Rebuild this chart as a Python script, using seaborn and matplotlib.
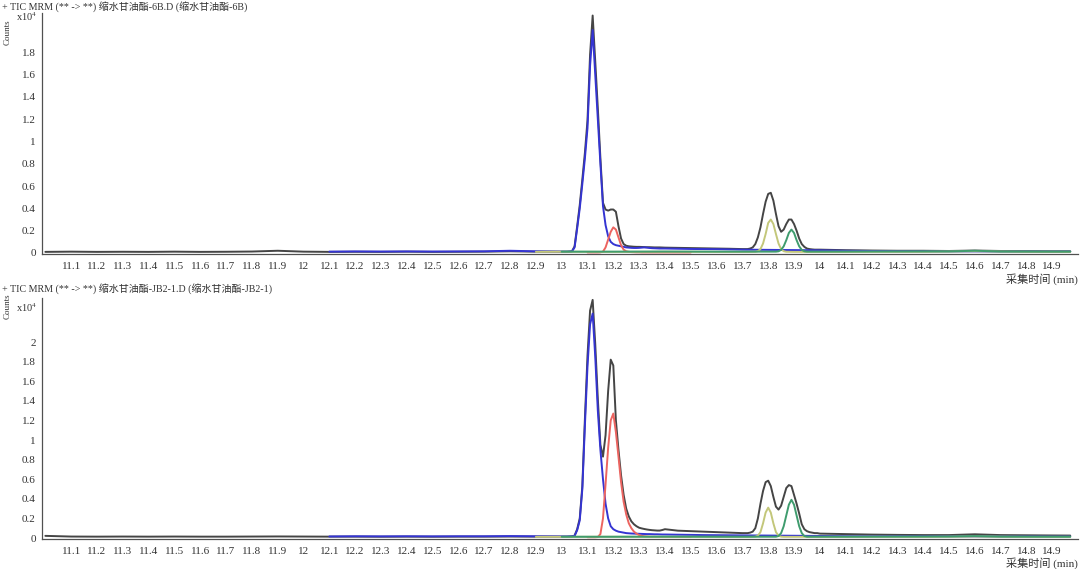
import numpy as np
import pandas as pd
import matplotlib
matplotlib.use("Agg")
import matplotlib.pyplot as plt
import seaborn as sns

# ---- retention time grids (min) ----
rt_survey = [11.0, 11.1, 11.2, 11.3, 11.4, 11.5, 11.6, 11.7, 11.8, 11.9,
             12.0, 12.1, 12.2, 12.3, 12.4, 12.5, 12.6, 12.7, 12.8, 12.9]
rt_peak1 = [13.00, 13.01, 13.02, 13.03, 13.04, 13.05, 13.06, 13.07, 13.08, 13.09,
            13.10, 13.11, 13.12, 13.13, 13.14, 13.15, 13.16, 13.17, 13.18, 13.19,
            13.20, 13.21, 13.22, 13.23, 13.24, 13.25, 13.26, 13.27, 13.28, 13.29,
            13.30, 13.31, 13.32, 13.33, 13.34, 13.35, 13.36, 13.37, 13.38, 13.39,
            13.40]
rt_mid = [13.45, 13.50, 13.55, 13.60, 13.65]
rt_peak2 = [13.70, 13.71, 13.72, 13.73, 13.74, 13.75, 13.76, 13.77, 13.78, 13.79,
            13.80, 13.81, 13.82, 13.83, 13.84, 13.85, 13.86, 13.87, 13.88, 13.89,
            13.90, 13.91, 13.92, 13.93, 13.94, 13.95, 13.96, 13.97, 13.98, 13.99,
            14.00]
rt_tail = [14.1, 14.2, 14.3, 14.4, 14.5, 14.6, 14.7, 14.8, 14.9, 14.97]

tic_rt = rt_survey + rt_peak1 + rt_mid + rt_peak2 + rt_tail
blue_rt = rt_survey[11:] + rt_peak1 + rt_mid + [13.70, 13.80, 13.90, 14.00] + rt_tail
red_rt = rt_peak1[10:] + [13.45, 13.50]
yellow_rt_top = [12.9, 13.0, 13.2, 13.4, 13.6, 13.72, 13.75, 13.76, 13.77, 13.78,
                 13.79, 13.80, 13.81, 13.82, 13.83, 13.84, 13.85, 13.86, 13.87, 13.90,
                 14.0, 14.2, 14.4, 14.6, 14.8, 14.97]
yellow_rt_bot = [12.9, 13.0, 13.2, 13.4, 13.6, 13.72, 13.74, 13.75, 13.76, 13.77,
                 13.78, 13.79, 13.80, 13.81, 13.82, 13.83, 13.84, 13.85, 13.86, 13.90,
                 14.0, 14.2, 14.4, 14.6, 14.8, 14.97]
green_rt = [13.0, 13.2, 13.4, 13.6, 13.80, 13.83, 13.84, 13.85, 13.86, 13.87,
            13.88, 13.89, 13.90, 13.91, 13.92, 13.93, 13.94, 13.95, 13.98, 14.1,
            14.3, 14.5, 14.6, 14.7, 14.9, 14.97]

# ---- top sample: 缩水甘油酯-6B (counts x10^4) ----
top_tic = ([0.010, 0.012, 0.010, 0.011, 0.010, 0.012, 0.010, 0.011, 0.013, 0.020,
            0.012, 0.010, 0.011, 0.010, 0.012, 0.010, 0.011, 0.012, 0.015, 0.012]
           + [0.012, 0.012, 0.012, 0.013, 0.016, 0.06, 0.24, 0.43, 0.66, 0.90,
              1.19, 1.78, 2.13, 1.72, 1.30, 0.85, 0.45, 0.39, 0.38, 0.39,
              0.39, 0.37, 0.24, 0.13, 0.08, 0.065, 0.06, 0.058, 0.056, 0.055,
              0.055, 0.054, 0.053, 0.052, 0.052, 0.051, 0.050, 0.050, 0.050, 0.049,
              0.048]
           + [0.046, 0.044, 0.042, 0.040, 0.038]
           + [0.035, 0.035, 0.035, 0.040, 0.050, 0.08, 0.14, 0.23, 0.35, 0.46,
              0.53, 0.54, 0.47, 0.35, 0.24, 0.19, 0.21, 0.26, 0.30, 0.30,
              0.26, 0.20, 0.13, 0.08, 0.055, 0.040, 0.035, 0.032, 0.030, 0.030,
              0.030]
           + [0.025, 0.022, 0.020, 0.020, 0.018, 0.022, 0.018, 0.016, 0.015, 0.015])
top_blue = ([0.012, 0.014, 0.013, 0.014, 0.013, 0.014, 0.015, 0.020, 0.015]
            + [0.012, 0.012, 0.012, 0.013, 0.015, 0.05, 0.22, 0.40, 0.62, 0.85,
               1.12, 1.68, 2.00, 1.60, 1.20, 0.80, 0.42, 0.25, 0.15, 0.10,
               0.08, 0.07, 0.065, 0.06, 0.055, 0.05, 0.048, 0.046, 0.045, 0.045,
               0.046, 0.048, 0.050, 0.048, 0.045, 0.043, 0.042, 0.041, 0.040, 0.040,
               0.040]
            + [0.038, 0.036, 0.035, 0.034, 0.032]
            + [0.030, 0.028, 0.026, 0.024]
            + [0.020, 0.018, 0.016, 0.015, 0.014, 0.014, 0.013, 0.013, 0.012, 0.012])
top_red = [0.005, 0.005, 0.005, 0.005, 0.005, 0.006, 0.012, 0.05, 0.12, 0.19,
           0.23, 0.21, 0.14, 0.07, 0.03, 0.015, 0.010, 0.008, 0.007, 0.006,
           0.006, 0.005, 0.005, 0.005, 0.005, 0.005, 0.005, 0.005, 0.005, 0.005,
           0.005, 0.005, 0.005]
top_yellow = [0.010, 0.011, 0.010, 0.011, 0.010, 0.010, 0.011, 0.016, 0.035, 0.085,
              0.17, 0.27, 0.30, 0.26, 0.17, 0.085, 0.035, 0.016, 0.011, 0.010,
              0.010, 0.011, 0.011, 0.016, 0.011, 0.010]
top_green = [0.012, 0.012, 0.013, 0.012, 0.012, 0.012, 0.015, 0.028, 0.06, 0.115,
             0.18, 0.21, 0.18, 0.115, 0.06, 0.028, 0.015, 0.012, 0.012, 0.012,
             0.013, 0.014, 0.020, 0.013, 0.012, 0.012]

# ---- bottom sample: 缩水甘油酯-JB2-1 (counts x10^4) ----
bot_tic = ([0.022, 0.015, 0.014, 0.015, 0.014, 0.015, 0.014, 0.014, 0.015, 0.016,
            0.015, 0.014, 0.014, 0.013, 0.014, 0.013, 0.014, 0.014, 0.015, 0.014]
           + [0.014, 0.014, 0.014, 0.015, 0.017, 0.025, 0.09, 0.20, 0.53, 1.22,
              1.86, 2.32, 2.43, 1.98, 1.42, 0.95, 0.83, 1.05, 1.50, 1.82,
              1.76, 1.20, 0.90, 0.64, 0.44, 0.30, 0.22, 0.17, 0.14, 0.12,
              0.105, 0.098, 0.092, 0.087, 0.083, 0.080, 0.078, 0.076, 0.076, 0.082,
              0.090]
           + [0.075, 0.070, 0.065, 0.060, 0.055]
           + [0.050, 0.050, 0.050, 0.055, 0.065, 0.10, 0.20, 0.35, 0.48, 0.57,
              0.585, 0.53, 0.42, 0.32, 0.29, 0.33, 0.42, 0.51, 0.54, 0.53,
              0.44, 0.35, 0.25, 0.14, 0.09, 0.07, 0.06, 0.055, 0.05, 0.05,
              0.045]
           + [0.040, 0.035, 0.032, 0.030, 0.030, 0.038, 0.030, 0.028, 0.026, 0.025])
bot_blue = ([0.016, 0.018, 0.017, 0.018, 0.017, 0.018, 0.018, 0.020, 0.018]
            + [0.016, 0.016, 0.016, 0.017, 0.018, 0.022, 0.08, 0.18, 0.50, 1.15,
               1.75, 2.18, 2.29, 1.85, 1.30, 0.90, 0.60, 0.35, 0.20, 0.12,
               0.09, 0.075, 0.065, 0.06, 0.055, 0.05, 0.048, 0.046, 0.045, 0.044,
               0.043, 0.042, 0.041, 0.040, 0.040, 0.039, 0.038, 0.038, 0.037, 0.036,
               0.036]
            + [0.034, 0.032, 0.030, 0.029, 0.028]
            + [0.027, 0.025, 0.023, 0.021]
            + [0.019, 0.018, 0.018, 0.017, 0.017, 0.016, 0.016, 0.016, 0.015, 0.015])
bot_red = [0.008, 0.008, 0.008, 0.008, 0.010, 0.04, 0.20, 0.55, 0.92, 1.20,
           1.27, 1.08, 0.83, 0.57, 0.37, 0.24, 0.15, 0.10, 0.065, 0.045,
           0.030, 0.022, 0.018, 0.015, 0.013, 0.012, 0.012, 0.011, 0.011, 0.010,
           0.010, 0.010, 0.010]
bot_yellow = [0.012, 0.012, 0.013, 0.012, 0.012, 0.012, 0.012, 0.014, 0.024, 0.06,
              0.15, 0.26, 0.31, 0.26, 0.15, 0.06, 0.024, 0.014, 0.012, 0.012,
              0.012, 0.013, 0.012, 0.016, 0.012, 0.012]
bot_green = [0.013, 0.013, 0.014, 0.013, 0.013, 0.013, 0.020, 0.05, 0.12, 0.23,
             0.34, 0.39, 0.34, 0.23, 0.12, 0.05, 0.020, 0.013, 0.013, 0.013,
             0.014, 0.015, 0.020, 0.014, 0.013, 0.013]

# ---- axis ticks / text ----
x_ticks = [11.0, 11.1, 11.2, 11.3, 11.4, 11.5, 11.6, 11.7, 11.8, 11.9,
           12.0, 12.1, 12.2, 12.3, 12.4, 12.5, 12.6, 12.7, 12.8, 12.9,
           13.0, 13.1, 13.2, 13.3, 13.4, 13.5, 13.6, 13.7, 13.8, 13.9,
           14.0, 14.1, 14.2, 14.3, 14.4, 14.5, 14.6, 14.7, 14.8, 14.9]
x_labels = [""] + [f"{v:g}" for v in x_ticks[1:]]
y_ticks_top = [0, 0.2, 0.4, 0.6, 0.8, 1.0, 1.2, 1.4, 1.6, 1.8, 2.0]
y_labels_top = ["0", "0.2", "0.4", "0.6", "0.8", "1", "1.2", "1.4", "1.6", "1.8", ""]
y_ticks_bot = [0, 0.2, 0.4, 0.6, 0.8, 1.0, 1.2, 1.4, 1.6, 1.8, 2.0, 2.2, 2.4]
y_labels_bot = ["0", "0.2", "0.4", "0.6", "0.8", "1", "1.2", "1.4", "1.6", "1.8", "2", "", ""]
title_top = "+ TIC MRM (** -> **) 缩水甘油酯-6B.D (缩水甘油酯-6B)"
title_bot = "+ TIC MRM (** -> **) 缩水甘油酯-JB2-1.D (缩水甘油酯-JB2-1)"
x_title = "采集时间 (min)"

# drawing order: TIC underneath, then the transitions
trace_order = ["TIC", "blue", "red", "yellow", "green"]
trace_colors = {"TIC": "#454545", "yellow": "#c3c77a", "green": "#3f9c6e",
                "red": "#ec6460", "blue": "#3434d2"}


def long_frame(traces):
    parts = []
    for name, (t, v) in traces.items():
        parts.append(pd.DataFrame({"rt": t, "counts": np.array(v, dtype=float), "trace": name}))
    return pd.concat(parts, ignore_index=True)


top_df = long_frame({"TIC": (tic_rt, top_tic), "yellow": (yellow_rt_top, top_yellow),
                     "green": (green_rt, top_green), "red": (red_rt, top_red),
                     "blue": (blue_rt, top_blue)})
bot_df = long_frame({"TIC": (tic_rt, bot_tic), "yellow": (yellow_rt_bot, bot_yellow),
                     "green": (green_rt, bot_green), "red": (red_rt, bot_red),
                     "blue": (blue_rt, bot_blue)})

sns.set_style("white")
plt.rcParams['font.family'] = ['Liberation Serif', 'Noto Sans CJK SC']
plt.rcParams['mathtext.fontset'] = 'stix'

W, H = 1080, 569
fig = plt.figure(figsize=(W / 100, H / 100), dpi=100)


def px(x, y):
    return x / W, 1 - y / H


panels = [
    (top_df, 13.3, 254.1, 2.15, y_ticks_top, y_labels_top, title_top, 7, 32, 17),
    (bot_df, 297.9, 539.0, 2.45, y_ticks_bot, y_labels_bot, title_bot, 289, 306, 308),
]
for df, top_px, bot_px, ymax, yt, yl, title, title_y, counts_y, exp_y in panels:
    ax = fig.add_axes([42 / W, 1 - bot_px / H, 1036 / W, (bot_px - top_px) / H])
    sns.lineplot(data=df, x="rt", y="counts", hue="trace", hue_order=trace_order,
                 palette=trace_colors, estimator=None, sort=False, legend=False,
                 linewidth=1.4, ax=ax)
    ax.set_xlim(10.987, 15.0)
    ax.set_ylim(-0.01, ymax)
    ax.set_xticks(x_ticks)
    ax.set_xticklabels(x_labels)
    ax.set_yticks(yt)
    ax.set_yticklabels(yl)
    for s in ["top", "right"]:
        ax.spines[s].set_visible(False)
    for s in ["left", "bottom"]:
        ax.spines[s].set_color("#505050")
        ax.spines[s].set_linewidth(0.9)
    ax.tick_params(axis="x", direction="out", length=4, width=0.8, color="#505050",
                   labelsize=8, labelcolor="#333333", pad=2)
    ax.tick_params(axis="y", direction="out", length=3, width=0.8, color="#505050",
                   labelsize=8, labelcolor="#333333", pad=1.5)
    ax.set_xlabel(x_title, loc="right", fontsize=8, color="#333333", labelpad=1)
    ax.set_ylabel("")

    fig.text(*px(2, title_y), title, fontsize=7.2, color="#333333", va="center", ha="left")
    fig.text(*px(8, counts_y), "Counts", fontsize=6.5, color="#333333", rotation=90,
             va="center", ha="center")
    fig.text(*px(37, exp_y), r"x10$^4$", fontsize=7.5, color="#333333", va="center", ha="right")

fig.savefig("out.png", dpi=100, facecolor="white")
